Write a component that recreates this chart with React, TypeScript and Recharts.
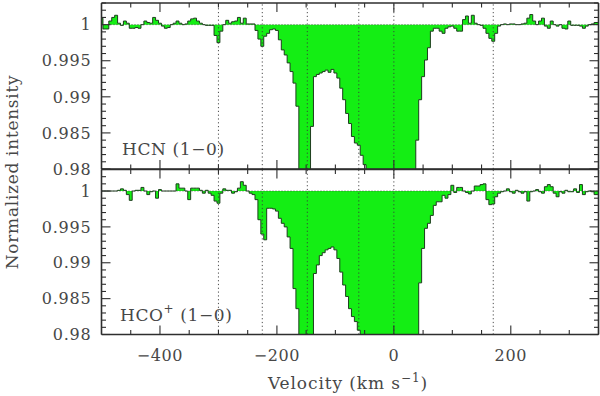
import React from 'react';
import { AreaChart, Area, XAxis, YAxis, ReferenceLine } from 'recharts';

// Velocity channels (km/s)
const velocity = [
  -500, -495, -490, -485, -480, -475, -470, -465, -460, -455,
  -450, -445, -440, -435, -430, -425, -420, -415, -410, -405,
  -400, -395, -390, -385, -380, -375, -370, -365, -360, -355,
  -350, -345, -340, -335, -330, -325, -320, -315, -310, -305,
  -300, -295, -290, -285, -280, -275, -270, -265, -260, -255,
  -250, -245, -240, -235, -230, -225, -220, -215, -210, -205,
  -200, -195, -190, -185, -180, -175, -170, -165, -160, -155,
  -150, -145, -140, -135, -130, -125, -120, -115, -110, -105,
  -100, -95, -90, -85, -80, -75, -70, -65, -60, -55,
  -50, -45, -40, -35, -30, -25, -20, -15, -10, -5,
  0, 5, 10, 15, 20, 25, 30, 35, 40, 45,
  50, 55, 60, 65, 70, 75, 80, 85, 90, 95,
  100, 105, 110, 115, 120, 125, 130, 135, 140, 145,
  150, 155, 160, 165, 170, 175, 180, 185, 190, 195,
  200, 205, 210, 215, 220, 225, 230, 235, 240, 245,
  250, 255, 260, 265, 270, 275, 280, 285, 290, 295,
  300, 305, 310, 315, 320, 325, 330, 335, 340, 345,
  350,
];

// HCN (1-0) normalized intensity
const hcn = [
  1.0009, 0.9994, 0.9994, 1.0005, 1.0010, 1.0013, 1.0002, 0.9999, 1.0005, 1.0002,
  0.9995, 0.9995, 0.9996, 0.9995, 1.0000, 1.0005, 1.0003, 1.0002, 1.0010, 1.0006,
  1.0002, 0.9998, 0.9995, 0.9996, 1.0000, 1.0002, 1.0005, 1.0002, 1.0000, 1.0001,
  1.0005, 1.0008, 1.0009, 1.0005, 1.0002, 1.0000, 0.9999, 0.9999, 0.9999, 0.9985,
  0.9975, 0.9991, 1.0000, 1.0006, 1.0002, 1.0004, 1.0005, 1.0010, 1.0002, 1.0009,
  1.0001, 1.0001, 1.0001, 0.9992, 0.9980, 0.9970, 0.9984, 0.9988, 0.9993, 0.9994,
  0.9992, 0.9979, 0.9965, 0.9958, 0.9947, 0.9935, 0.9919, 0.9887, 0.9700, 0.9700,
  0.9700, 0.9700, 0.9859, 0.9928, 0.9931, 0.9933, 0.9935, 0.9937, 0.9934, 0.9938,
  0.9933, 0.9926, 0.9912, 0.9896, 0.9877, 0.9863, 0.9845, 0.9836, 0.9833, 0.9819,
  0.9806, 0.9700, 0.9700, 0.9700, 0.9700, 0.9700, 0.9700, 0.9700, 0.9700, 0.9700,
  0.9700, 0.9700, 0.9700, 0.9700, 0.9700, 0.9700, 0.9700, 0.9700, 0.9840, 0.9896,
  0.9928, 0.9951, 0.9968, 0.9991, 0.9995, 0.9995, 0.9991, 0.9988, 0.9995, 0.9997,
  0.9998, 0.9995, 0.9991, 0.9991, 1.0007, 1.0012, 1.0002, 1.0013, 1.0002, 1.0000,
  0.9999, 0.9995, 0.9988, 0.9981, 0.9977, 0.9988, 0.9998, 1.0000, 1.0001, 1.0000,
  1.0001, 1.0001, 1.0000, 1.0000, 1.0001, 1.0002, 1.0009, 1.0014, 1.0005, 1.0000,
  1.0005, 1.0009, 0.9998, 0.9995, 1.0005, 1.0000, 0.9998, 1.0000, 0.9995, 0.9994,
  1.0005, 0.9999, 0.9999, 0.9999, 0.9998, 0.9995, 0.9998, 1.0000, 1.0001, 1.0003,
  1.0003,
];

// HCO+ (1-0) normalized intensity
const hcop = [
  1.0000, 1.0000, 1.0000, 1.0000, 1.0000, 1.0000, 1.0001, 1.0003, 1.0001, 0.9995,
  0.9987, 1.0000, 1.0001, 1.0001, 1.0005, 1.0000, 0.9995, 0.9999, 1.0000, 0.9990,
  1.0002, 1.0000, 1.0000, 1.0000, 1.0000, 1.0000, 1.0010, 1.0004, 1.0004, 1.0000,
  0.9988, 1.0004, 1.0004, 1.0004, 1.0001, 0.9997, 1.0001, 0.9997, 0.9994, 0.9986,
  0.9983, 0.9997, 1.0003, 1.0001, 1.0001, 0.9997, 0.9999, 1.0004, 1.0013, 1.0008,
  1.0000, 0.9997, 0.9995, 0.9988, 0.9960, 0.9940, 0.9932, 0.9976, 0.9976, 0.9975,
  0.9972, 0.9962, 0.9955, 0.9950, 0.9936, 0.9920, 0.9864, 0.9836, 0.9700, 0.9700,
  0.9700, 0.9700, 0.9700, 0.9885, 0.9897, 0.9910, 0.9914, 0.9918, 0.9920, 0.9922,
  0.9918, 0.9906, 0.9887, 0.9869, 0.9853, 0.9836, 0.9825, 0.9818, 0.9806, 0.9790,
  0.9700, 0.9700, 0.9700, 0.9700, 0.9700, 0.9700, 0.9700, 0.9700, 0.9700, 0.9700,
  0.9700, 0.9700, 0.9700, 0.9700, 0.9700, 0.9700, 0.9700, 0.9700, 0.9700, 0.9872,
  0.9920, 0.9948, 0.9955, 0.9966, 0.9980, 0.9985, 0.9985, 0.9994, 0.9990, 0.9995,
  1.0008, 0.9998, 1.0005, 1.0005, 1.0000, 0.9998, 0.9996, 1.0000, 1.0007, 1.0007,
  1.0009, 1.0010, 0.9988, 0.9981, 0.9982, 0.9992, 0.9997, 0.9999, 1.0000, 1.0003,
  0.9999, 0.9997, 1.0001, 0.9999, 0.9997, 0.9999, 0.9986, 0.9999, 1.0000, 1.0002,
  0.9999, 0.9997, 1.0006, 1.0009, 1.0006, 0.9997, 0.9992, 0.9999, 0.9997, 1.0001,
  0.9999, 0.9999, 1.0003, 0.9998, 1.0009, 0.9995, 0.9999, 1.0000, 0.9999, 0.9995,
  0.9995,
];

const xLabelTicks = [-400, -200, 0, 200];
const xMajorTicks = [-400, -200, 0, 200];
const xAllTicks = [-450, -400, -350, -300, -250, -200, -150, -100, -50, 0, 50, 100, 150, 200, 250, 300, 350];
const yLabelTicks = [0.98, 0.985, 0.99, 0.995, 1];
const yMajorTicks = [0.98, 0.985, 0.99, 0.995, 1];
const yAllTicks = [0.98, 0.981, 0.982, 0.983, 0.984, 0.985, 0.986, 0.987, 0.988, 0.989, 0.99, 0.991, 0.992, 0.993, 0.994, 0.995, 0.996, 0.997, 0.998, 0.999, 1, 1.001, 1.002, 1.003];
const markerVelocities = [-300, -225, -148, -60, 0, 170];

const X_DOMAIN: [number, number] = [-500, 350];
const Y_DOMAIN: [number, number] = [0.98, 1.003];

const AXIS = '#2e2e2e';
const TEXT = '#474747';
const FONT = '"DejaVu Serif", "Liberation Serif", serif';
const FILL = '#14ee14';
const LINE = '#1d3d1d';

const fmtX = (v: number) => (v < 0 ? `\u2212${Math.abs(v)}` : `${v}`);
const fmtY = (v: number) => (v === 1 ? '1' : `${v}`);

const near = (arr: number[], v: number) => arr.some((a) => Math.abs(a - v) < 1e-7);

const MAJOR = 9;
const MINOR = 4.5;

type Side = 'bottom' | 'top' | 'left' | 'right';

function makeTick(side: Side, showLabels: boolean) {
  return (props: any) => {
    const { x, y, payload } = props;
    const v: number = payload.value;
    const isX = side === 'bottom' || side === 'top';
    const major = isX ? near(xMajorTicks, v) : near(yMajorTicks, v);
    const len = major ? MAJOR : MINOR;
    let x2 = x;
    let y2 = y;
    if (side === 'bottom') y2 = y - len;
    if (side === 'top') y2 = y + len;
    if (side === 'left') x2 = x + len;
    if (side === 'right') x2 = x - len;
    let label: React.ReactNode = null;
    if (showLabels) {
      if (side === 'bottom' && near(xLabelTicks, v)) {
        label = (
          <text x={x} y={y + 26} textAnchor="middle" fill={TEXT} fontSize={16} fontFamily={FONT} letterSpacing={0.6}>
            {fmtX(v)}
          </text>
        );
      }
      if (side === 'left' && near(yLabelTicks, v)) {
        label = (
          <text x={x - 10} y={y + 5.7} textAnchor="end" fill={TEXT} fontSize={16} fontFamily={FONT} letterSpacing={0.8}>
            {fmtY(v)}
          </text>
        );
      }
    }
    return (
      <g>
        <line x1={x} y1={y} x2={x2} y2={y2} stroke={AXIS} strokeWidth={1.1} />
        {label}
      </g>
    );
  };
}

type PanelProps = {
  data: { v: number; y: number }[];
  height: number;
  margin: { top: number; right: number; bottom: number; left: number };
  bottomHeight: number;
  showXLabels: boolean;
};

function Panel({ data, height, margin, bottomHeight, showXLabels }: PanelProps) {
  const axisLine = { stroke: AXIS, strokeWidth: 1.6 };
  return (
    <AreaChart width={600} height={height} data={data} margin={margin}>
      <XAxis
        xAxisId="main"
        dataKey="v"
        type="number"
        domain={X_DOMAIN}
        allowDataOverflow
        orientation="bottom"
        ticks={xAllTicks}
        interval={0}
        tickLine={false}
        axisLine={axisLine}
        tickSize={0}
        tickMargin={0}
        height={bottomHeight}
        tick={makeTick('bottom', showXLabels)}
      />
      <XAxis
        xAxisId="top"
        dataKey="v"
        type="number"
        domain={X_DOMAIN}
        allowDataOverflow
        orientation="top"
        ticks={xAllTicks}
        interval={0}
        tickLine={false}
        axisLine={axisLine}
        tickSize={0}
        tickMargin={0}
        height={1}
        tick={makeTick('top', false)}
      />
      <YAxis
        yAxisId="main"
        type="number"
        domain={Y_DOMAIN}
        allowDataOverflow
        orientation="left"
        ticks={yAllTicks}
        interval={0}
        tickLine={false}
        axisLine={axisLine}
        tickSize={0}
        tickMargin={0}
        width={90}
        tick={makeTick('left', true)}
      />
      <YAxis
        yAxisId="right"
        type="number"
        domain={Y_DOMAIN}
        allowDataOverflow
        orientation="right"
        ticks={yAllTicks}
        interval={0}
        tickLine={false}
        axisLine={axisLine}
        tickSize={0}
        tickMargin={0}
        width={1.5}
        tick={makeTick('right', false)}
      />

      <Area
        xAxisId="main"
        yAxisId="main"
        type="step"
        dataKey="y"
        baseValue={1}
        stroke={LINE}
        strokeWidth={1}
        fill={FILL}
        fillOpacity={1}
        isAnimationActive={false}
        dot={false}
        activeDot={false}
      />
      {/* invisible series binding the frame axes on the top and right */}
      <Area
        xAxisId="top"
        yAxisId="right"
        type="step"
        dataKey="y"
        baseValue={1}
        stroke="none"
        fill="none"
        isAnimationActive={false}
        dot={false}
        activeDot={false}
      />
      <ReferenceLine xAxisId="main" yAxisId="main" y={1} stroke="#3a3a3a" strokeWidth={0.8} strokeDasharray="1 2" />
      {markerVelocities.map((mv) => (
        <ReferenceLine key={mv} xAxisId="main" yAxisId="main" x={mv} stroke="#3a3a3a" strokeWidth={0.9} strokeDasharray="1.2 2.6" />
      ))}
    </AreaChart>
  );
}

export default function App() {
  return (
    <div style={{ position: 'absolute', left: 0, top: 0, width: 600, height: 396, background: '#fff', overflow: 'hidden' }}>
      <div style={{ position: 'absolute', left: 0, top: 0 }}>
        <Panel data={hcnData()} height={180} margin={{ top: 2, right: 0, bottom: 0, left: 11.5 }} bottomHeight={11} showXLabels={false} />
      </div>
      <div style={{ position: 'absolute', left: 0, top: 168 }}>
        <Panel data={hcopData()} height={206.5} margin={{ top: 0.5, right: 0, bottom: 0, left: 11.5 }} bottomHeight={40} showXLabels={true} />
      </div>
      <svg width={600} height={396} style={{ position: 'absolute', left: 0, top: 0, pointerEvents: 'none' }}>
        <g fontFamily={FONT} fill={TEXT}>
          <text x={122} y={155} fontSize={17} letterSpacing={0.6}>HCN (1{'\u2212'}0)</text>
          <text x={120} y={321} fontSize={17} letterSpacing={0.6}>
            HCO<tspan dy={-8} fontSize={12}>+</tspan>
            <tspan dy={8}> (1{'\u2212'}0)</tspan>
          </text>
          <text transform="translate(18,172) rotate(-90)" textAnchor="middle" fontSize={17} letterSpacing={0.7}>
            Normalized intensity
          </text>
          <text x={348} y={389} textAnchor="middle" fontSize={17} letterSpacing={0.9}>
            Velocity (km s<tspan dy={-7} fontSize={12}>{'\u2212'}1</tspan>
            <tspan dy={7}>)</tspan>
          </text>
        </g>
      </svg>
    </div>
  );
}

function hcnData() {
  return velocity.map((v, i) => ({ v, y: hcn[i] }));
}
function hcopData() {
  return velocity.map((v, i) => ({ v, y: hcop[i] }));
}
